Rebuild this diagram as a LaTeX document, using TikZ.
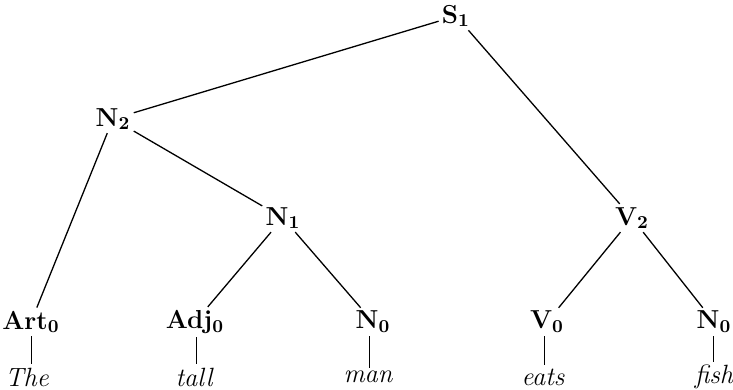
\documentclass[tikz,border=0pt]{standalone}
\usepackage{tikz}
\tikzset{
  cat/.style={font=\fontsize{13}{15}\selectfont\bfseries,inner sep=1.5pt},
  word/.style={font=\fontsize{13.2}{15}\selectfont\itshape,inner sep=1.5pt},
  branch/.style={line width=0.65pt},
  stem/.style={line width=0.45pt}
}

\begin{document}
\begin{tikzpicture}[x=0.5pt,y=-0.5pt]
  \useasboundingbox (0,0) rectangle (733,390);
  % categories
  \node[cat] (s1) at (456,16) {S\textsubscript{1}};
  \node[cat] (n2) at (113,119) {N\textsubscript{2}};
  \node[cat] (n1) at (283,218) {N\textsubscript{1}};
  \node[cat] (v2) at (632,218) {V\textsubscript{2}};
  \node[cat] (art) at (31,322) {Art\textsubscript{0}};
  \node[cat] (adj) at (195,322) {Adj\textsubscript{0}};
  \node[cat] (nman) at (373,322) {N\textsubscript{0}};
  \node[cat] (v0) at (547,322) {V\textsubscript{0}};
  \node[cat] (nfish) at (714,322) {N\textsubscript{0}};
  % words
  \node[word] (the) at (27,377) {The};
  \node[word] (tall) at (194,377) {tall};
  \node[word] (man) at (368,377) {man};
  \node[word] (eats) at (543,377) {eats};
  \node[word] (fish) at (714,377) {fish};
  % branches
  \draw[branch] (s1) -- (n2);
  \draw[branch] (s1) -- (v2);
  \draw[branch] (n2) -- (art);
  \draw[branch] (n2) -- (n1);
  \draw[branch] (n1) -- (adj);
  \draw[branch] (n1) -- (nman);
  \draw[branch] (v2) -- (v0);
  \draw[branch] (v2) -- (nfish);
  \draw[stem] (art.south -| 31,0) -- (the.north -| 31,0);
  \draw[stem] (adj.south -| 196,0) -- (tall.north -| 196,0);
  \draw[stem] (nman.south -| 369,0) -- (man.north -| 369,0);
  \draw[stem] (v0.south -| 544,0) -- (eats.north -| 544,0);
  \draw[stem] (nfish.south -| 713,0) -- (fish.north -| 713,0);
\end{tikzpicture}
\end{document}
